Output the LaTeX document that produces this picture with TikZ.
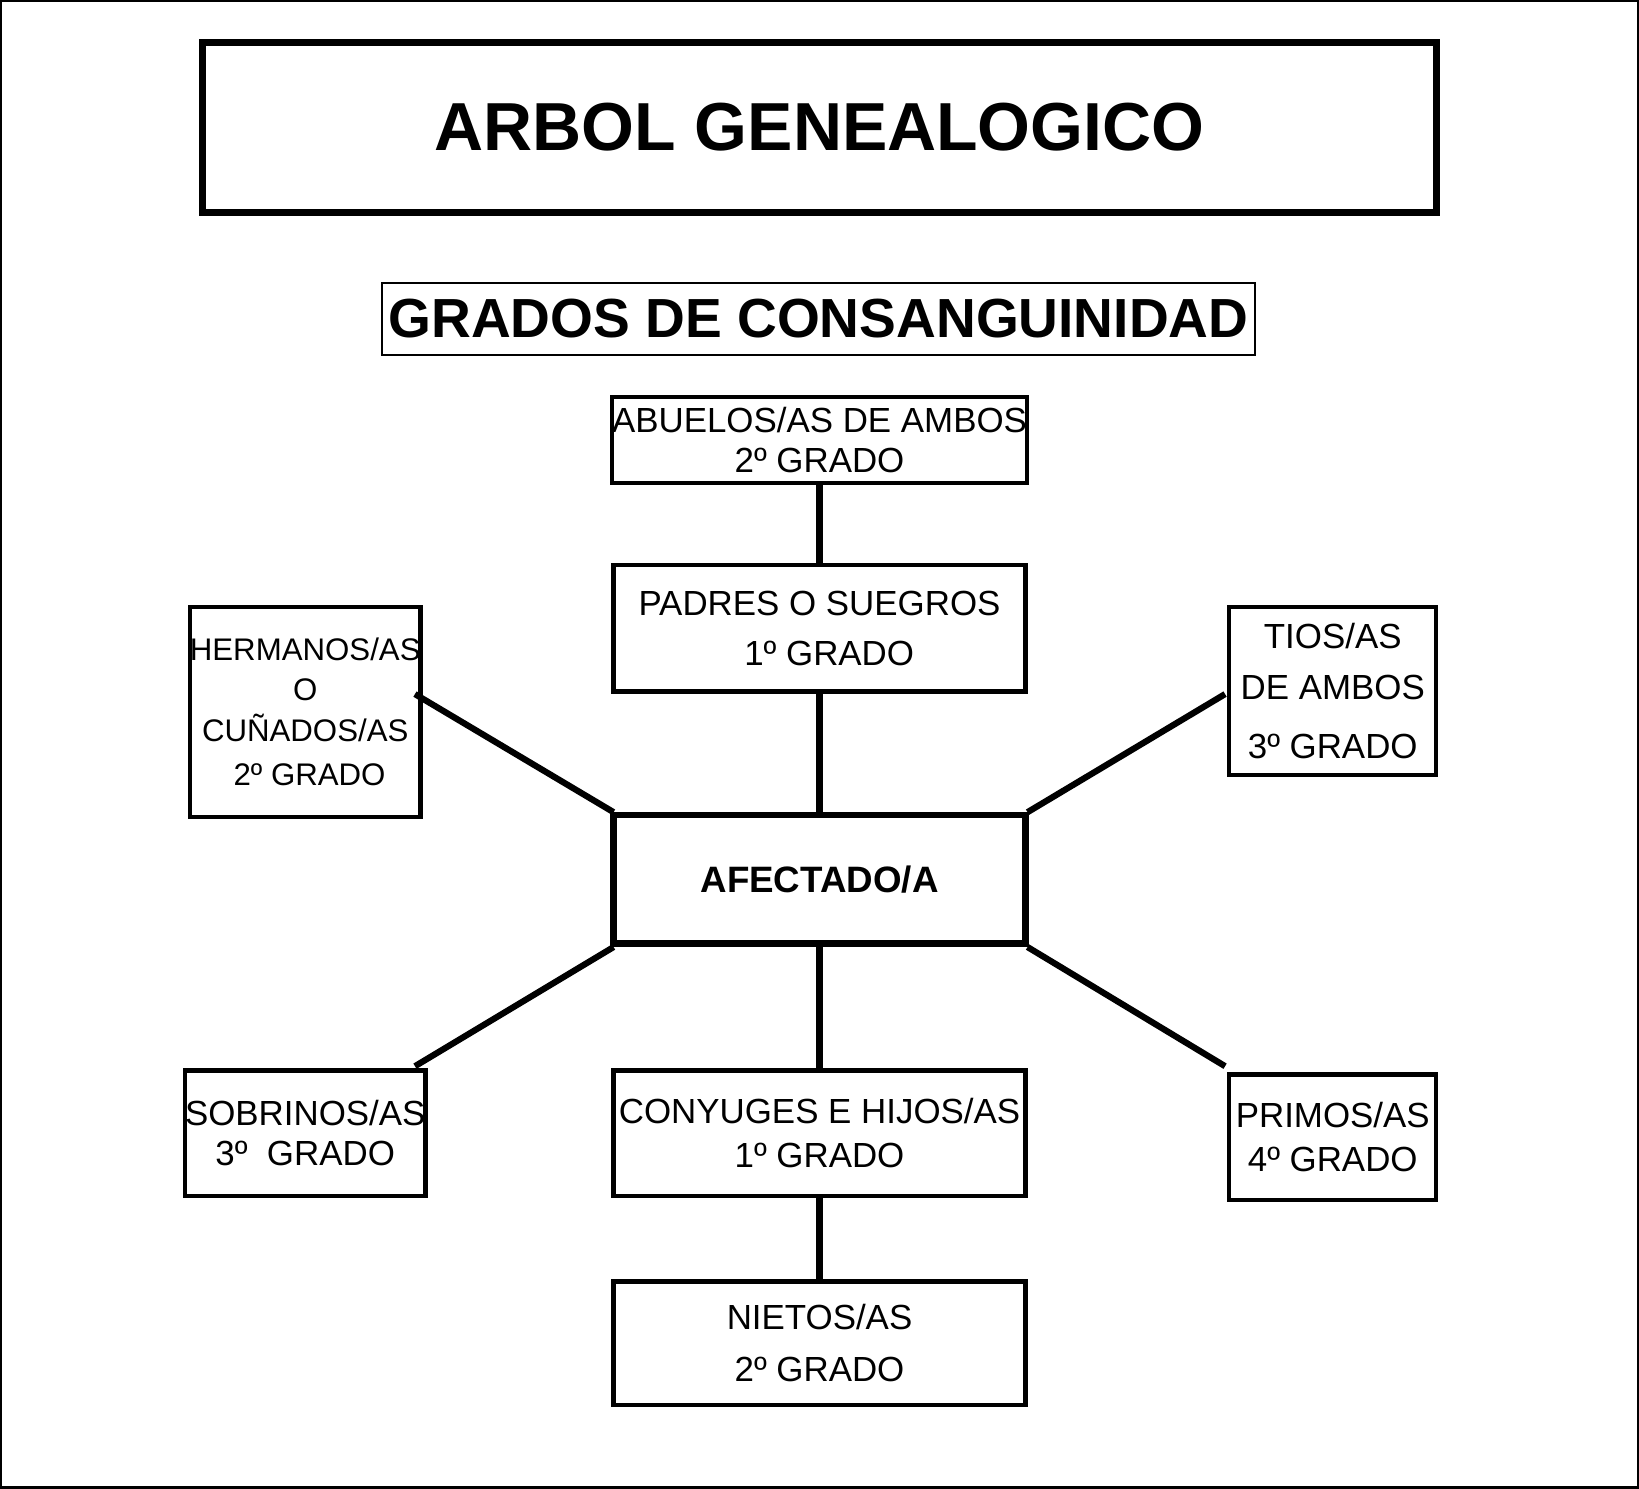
\documentclass[tikz,border=0pt]{standalone}
\usepackage{fontspec}
\setmainfont{Liberation Sans}
\begin{document}
\begin{tikzpicture}[x=0.02cm,y=-0.02cm,
 bx/.style={draw,line width=2.4pt,inner sep=0pt,align=center,font=\fontsize{19}{30}\selectfont},
 ln/.style={line width=3.4pt}]
\useasboundingbox (0,0) rectangle (1568,1424);
\draw[line width=1.2pt] (1,1) rectangle (1567,1423);
\node[draw,line width=3.6pt,minimum width=1180*0.02cm,minimum height=163*0.02cm,font=\fontsize{37}{44}\selectfont\bfseries] (title) at (784,122) {ARBOL GENEALOGICO};
\node[draw,line width=1.2pt,minimum width=785*0.02cm,minimum height=69*0.02cm,font=\fontsize{30}{36}\selectfont\bfseries] (sub) at (783,305) {GRADOS DE CONSANGUINIDAD};
\node[bx,minimum width=394*0.02cm,minimum height=82*0.02cm] (abu) at (784,421) {ABUELOS/AS DE AMBOS\\[-8pt]2º GRADO};
\node[bx,minimum width=394*0.02cm,minimum height=121*0.02cm] (pad) at (784,601) {PADRES O SUEGROS\\[-3pt]\ \ 1º GRADO};
\node[bx,minimum width=197*0.02cm,minimum height=201*0.02cm,font=\fontsize{17}{26}\selectfont] (her) at (292,681) {HERMANOS/AS\\[-4pt]O\\[-4pt]CUÑADOS/AS\\[-2pt]\ 2º GRADO};
\node[bx,minimum width=198*0.02cm,minimum height=161*0.02cm] (tio) at (1275,661) {TIOS/AS\\[-2pt]DE AMBOS\\[2pt]3º GRADO};
\node[bx,line width=3.6pt,minimum width=394*0.02cm,minimum height=123*0.02cm,font=\fontsize{20}{24}\selectfont\bfseries] (afe) at (784,841) {AFECTADO/A};
\node[bx,minimum width=197*0.02cm,minimum height=120*0.02cm] (sob) at (292,1084) {SOBRINOS/AS\\[-8pt]3º\ \ GRADO};
\node[bx,minimum width=394*0.02cm,minimum height=120*0.02cm] (con) at (784,1084) {CONYUGES E HIJOS/AS\\[-6pt]1º GRADO};
\node[bx,minimum width=198*0.02cm,minimum height=120*0.02cm] (pri) at (1275,1088) {PRIMOS/AS\\[-6pt]4º GRADO};
\node[bx,minimum width=394*0.02cm,minimum height=118*0.02cm] (nie) at (784,1285) {NIETOS/AS\\[-2pt]2º GRADO};
\coordinate (h1) at (397,664); \coordinate (h2) at (587,777);
\coordinate (t1) at (1172,664); \coordinate (t2) at (983,777);
\coordinate (s1) at (397,1020); \coordinate (s2) at (587,906);
\coordinate (p1) at (1172,1020); \coordinate (p2) at (983,906);
\draw[ln] (abu) -- (pad);
\draw[ln] (pad) -- (afe);
\draw[ln] (afe) -- (con);
\draw[ln] (con) -- (nie);
\draw[ln] (h1) -- (h2);
\draw[ln] (t1) -- (t2);
\draw[ln] (s1) -- (s2);
\draw[ln] (p1) -- (p2);
\end{tikzpicture}
\end{document}
